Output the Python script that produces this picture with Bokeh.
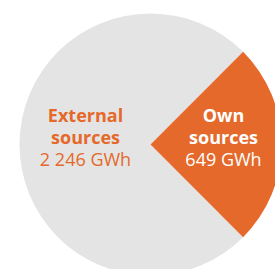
import math
from bokeh.plotting import figure
from bokeh.embed import file_html
from bokeh.resources import INLINE
from bokeh.core.properties import value

# Data
categories = ["External sources", "Own sources"]
energy_gwh = [2246, 649]
slice_share = [75, 25]          # slice sizes as drawn in the picture (percent)
colors = ["#E4E4E4", "#E5692A"]
label_colors = ["#E5692A", "#FFFFFF"]

W, H = 275, 269
p = figure(width=W, height=H, x_range=(0, W), y_range=(0, H),
           output_backend="svg", toolbar_location=None, min_border=0)
p.axis.visible = False
p.grid.visible = False
p.outline_line_color = None
p.background_fill_color = "white"
p.border_fill_color = "white"

cx, cy, r = 150, 125, 131

# Own sources centred on the 0° direction, external takes the rest
own_half = slice_share[1] / 100 * math.pi
starts = [own_half, -own_half]
ends = [2 * math.pi - own_half, own_half]
for i in range(len(categories)):
    p.wedge(x=cx, y=cy, radius=r, start_angle=starts[i], end_angle=ends[i],
            fill_color=colors[i], line_color=None)

def fmt(v):
    return f"{v:,}".replace(",", " ") + " GWh"

label_x = [85, 223]
line_y = [155, 133, 111]
for i, cat in enumerate(categories):
    words = cat.split(" ")
    p.text(x=[label_x[i]] * 2, y=line_y[:2], text=words,
           text_font=value("Open Sans"), text_font_style="bold",
           text_font_size="18px", text_color=label_colors[i],
           text_align="center", text_baseline="alphabetic")
    p.text(x=[label_x[i]], y=[line_y[2]], text=[fmt(energy_gwh[i])],
           text_font=value("Open Sans"), text_font_size="18px",
           text_color=label_colors[i],
           text_align="center", text_baseline="alphabetic")

open("out.html", "w").write(file_html(p, INLINE))
